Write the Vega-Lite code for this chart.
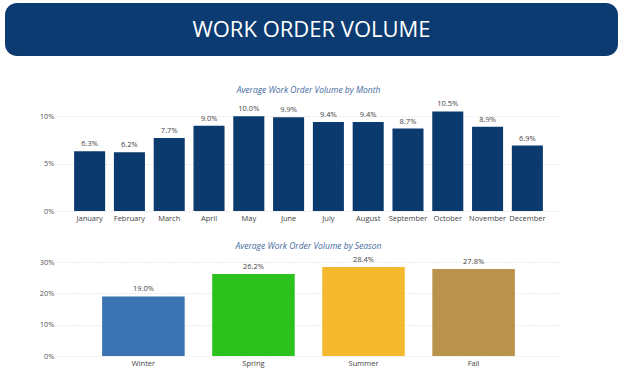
{
  "$schema": "https://vega.github.io/schema/vega-lite/v6.json",
  "background": "white",
  "padding": {"left": 5, "top": 3, "right": 6, "bottom": 2},
  "spacing": 29,
  "config": {
    "view": {"stroke": null},
    "axis": {"labelFont": "Open Sans", "labelFontSize": 7.5, "labelColor": "#555", "domain": false, "ticks": false, "title": null},
    "title": {"font": "Open Sans", "fontSize": 8.5, "fontStyle": "italic", "fontWeight": "normal", "color": "#3f6aa0"}
  },
  "vconcat": [
    {
      "width": 613,
      "height": 53,
      "view": {"fill": "#0b3b70", "stroke": null, "cornerRadius": 12},
      "data": {"values": [{"title": "WORK ORDER VOLUME"}]},
      "mark": {"type": "text", "color": "white", "fontSize": 22, "font": "Open Sans", "baseline": "middle"},
      "encoding": {"text": {"field": "title", "type": "nominal"}}
    },
    {
      "spacing": 0,
      "hconcat": [
        {
          "width": 1,
          "height": 1,
          "data": {"values": []},
          "mark": {"type": "text", "opacity": 0},
          "encoding": {}
        },
        {
          "spacing": 19,
          "vconcat": [
            {
              "width": 503,
              "height": 109,
              "title": {"text": "Average Work Order Volume by Month", "offset": 6},
              "data": {"values": [
                {"month": "January", "value": 0.063},
                {"month": "February", "value": 0.062},
                {"month": "March", "value": 0.077},
                {"month": "April", "value": 0.090},
                {"month": "May", "value": 0.100},
                {"month": "June", "value": 0.099},
                {"month": "July", "value": 0.094},
                {"month": "August", "value": 0.094},
                {"month": "September", "value": 0.087},
                {"month": "October", "value": 0.105},
                {"month": "November", "value": 0.089},
                {"month": "December", "value": 0.069}
              ]},
              "encoding": {
                "x": {"field": "month", "type": "nominal", "sort": null,
                      "scale": {"paddingInner": 0.22, "paddingOuter": 0.43},
                      "axis": {"labelAngle": 0, "labelPadding": 3, "labelColor": "#444"}},
                "y": {"field": "value", "type": "quantitative",
                      "scale": {"domain": [0, 0.115], "nice": false},
                      "axis": {"format": ".0%", "values": [0, 0.05, 0.1], "gridDash": [1, 2], "gridColor": "#d8d8d8", "minExtent": 51, "maxExtent": 51, "labelPadding": 3}}
              },
              "layer": [
                {"mark": {"type": "bar", "color": "#0b3a6e"}},
                {"mark": {"type": "text", "dy": -3, "baseline": "bottom", "fontSize": 7.5, "font": "Open Sans", "color": "#444"},
                 "encoding": {"text": {"field": "value", "type": "quantitative", "format": ".1%"}}}
              ]
            },
            {
              "width": 503,
              "height": 94,
              "title": {"text": "Average Work Order Volume by Season", "offset": 6},
              "data": {"values": [
                {"season": "Winter", "value": 0.190},
                {"season": "Spring", "value": 0.262},
                {"season": "Summer", "value": 0.284},
                {"season": "Fall", "value": 0.278}
              ]},
              "encoding": {
                "x": {"field": "season", "type": "nominal", "sort": null,
                      "scale": {"paddingInner": 0.25, "paddingOuter": 0.41},
                      "axis": {"labelAngle": 0, "labelPadding": 3, "labelColor": "#444"}},
                "y": {"field": "value", "type": "quantitative",
                      "scale": {"domain": [0, 0.3], "nice": false},
                      "axis": {"format": ".0%", "values": [0, 0.1, 0.2, 0.3], "gridDash": [1, 2], "gridColor": "#d8d8d8", "minExtent": 51, "maxExtent": 51, "labelPadding": 3}}
              },
              "layer": [
                {"mark": {"type": "bar"},
                 "encoding": {"color": {"field": "season", "type": "nominal", "legend": null,
                                        "scale": {"domain": ["Winter", "Spring", "Summer", "Fall"], "range": ["#3b73b3", "#2bc21d", "#f4b92f", "#b9934b"]}}}},
                {"mark": {"type": "text", "dy": -3, "baseline": "bottom", "fontSize": 7.5, "font": "Open Sans", "color": "#444"},
                 "encoding": {"text": {"field": "value", "type": "quantitative", "format": ".1%"}}}
              ]
            }
          ]
        }
      ]
    }
  ]
}
